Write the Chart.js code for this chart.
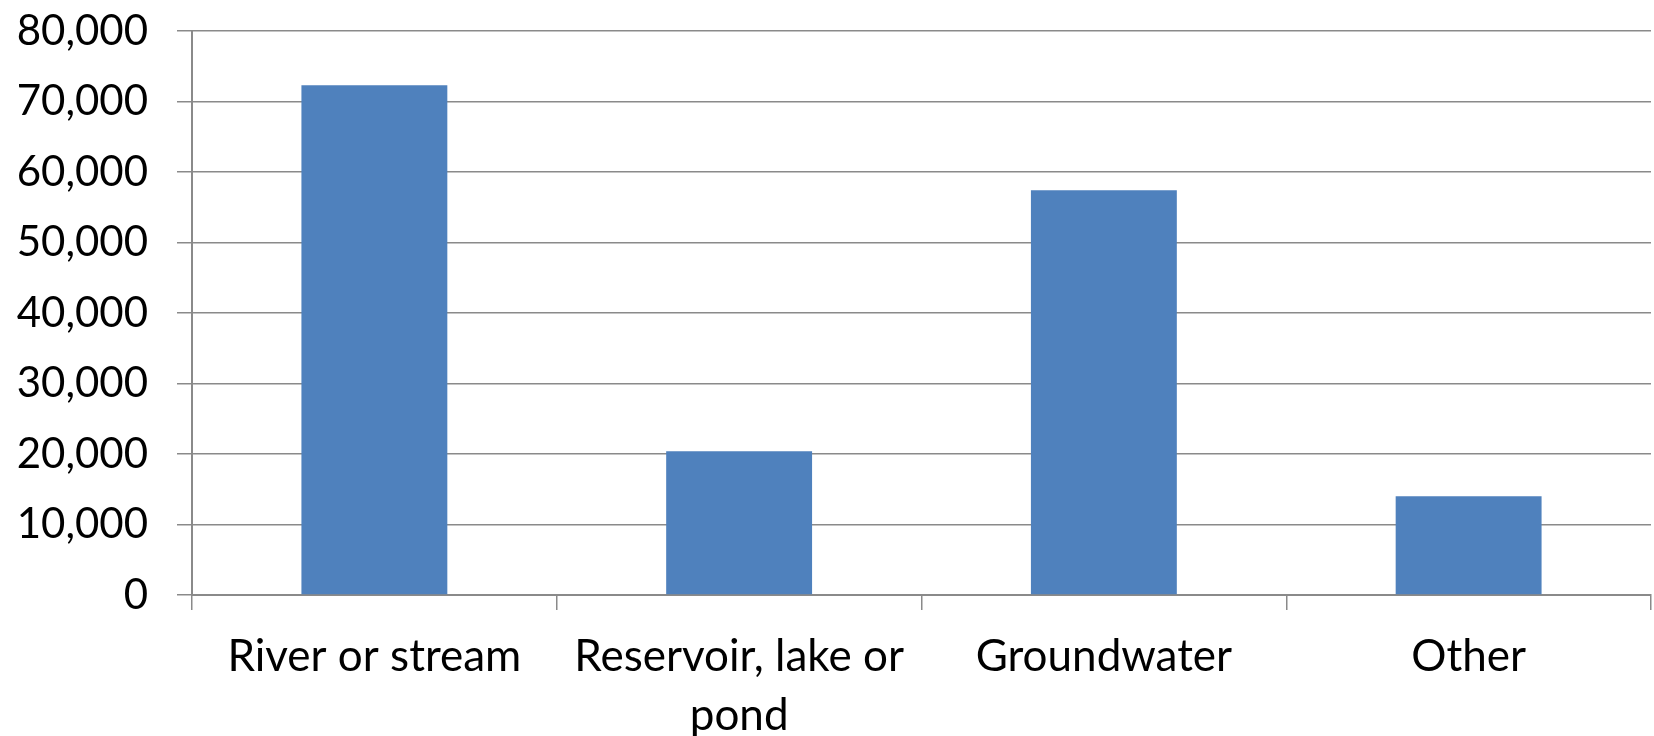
<!DOCTYPE html>
<html>
<head>
<meta charset="utf-8">
<script src="https://cdn.jsdelivr.net/npm/chart.js@4"></script>
<style>
  html, body { margin: 0; padding: 0; background: #ffffff; }
  #wrap { width: 1654px; height: 736px; }
</style>
</head>
<body>
<div id="wrap"><canvas id="c" width="1654" height="736"></canvas></div>
<script>
const categories = [["River or stream"], ["Reservoir, lake or", "pond"], ["Groundwater"], ["Other"]];
const values = [72300, 20400, 57400, 14000];
const yTicks = [0, 10000, 20000, 30000, 40000, 50000, 60000, 70000, 80000];

const FONT = { family: "Lato, 'Open Sans', sans-serif", size: 44, lineHeight: 1.33 };
const YFONT = { family: "Lato, 'Open Sans', sans-serif", size: 42 };
const GRID = '#8a8a8a';

new Chart(document.getElementById('c'), {
  type: 'bar',
  data: {
    labels: categories,
    datasets: [{
      data: values,
      backgroundColor: '#4F81BD',
      borderWidth: 0,
      barPercentage: 0.4,
      categoryPercentage: 1.0
    }]
  },
  options: {
    responsive: false,
    animation: false,
    devicePixelRatio: 1,
    layout: { padding: { top: 31, right: 3, left: 0, bottom: 0 } },
    plugins: { legend: { display: false }, tooltip: { enabled: false } },
    scales: {
      x: {
        grid: { display: true, drawOnChartArea: false, drawTicks: true, tickLength: 15, color: GRID, lineWidth: 1.5, offset: true },
        border: { display: true, color: GRID, width: 2 },
        ticks: { color: '#000', font: FONT, padding: 18, maxRotation: 0, autoSkip: false },
        afterFit: (s) => { s.height = 141; s.paddingLeft = 0; s.paddingRight = 0; }
      },
      y: {
        min: 0, max: 80000,
        afterBuildTicks: (s) => { s.ticks = yTicks.map(v => ({ value: v })); },
        grid: { color: GRID, lineWidth: 1.5, tickLength: 15 },
        border: { display: true, color: GRID, width: 2 },
        ticks: {
          color: '#000', font: YFONT, padding: 29,
          callback: (v) => Number(v).toLocaleString('en-US')
        },
        afterFit: (s) => { s.width = 192; s.paddingTop = 0; s.paddingBottom = 0; }
      }
    }
  }
});
</script>
</body>
</html>
